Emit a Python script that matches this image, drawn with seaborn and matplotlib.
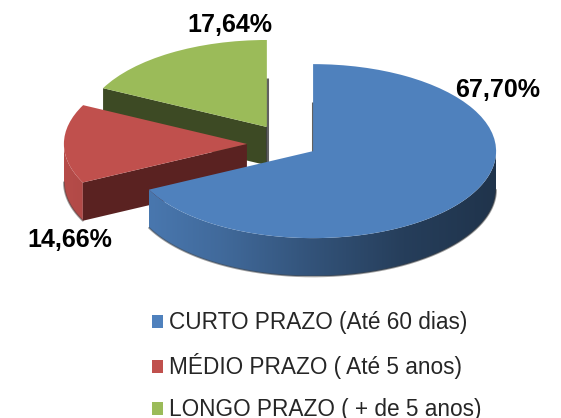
import numpy as np
import matplotlib
matplotlib.use('Agg')
import matplotlib.pyplot as plt
import seaborn as sns
from matplotlib.patches import Polygon, Patch

categories = ['CURTO PRAZO (Até 60 dias)', 'MÉDIO PRAZO ( Até 5 anos)', 'LONGO PRAZO ( + de 5 anos)']
shares = [67.70, 14.66, 17.64]
pct_labels = ['67,70%', '14,66%', '17,64%']

top_colors = ['#4f81bd', '#c0504d', '#9bbb59']
cut_colors = ['#22385a', '#5a2221', '#3d4a24']
explode = [0.155, 0.23, 0.23]
depth = 0.44
label_px = [(498, 90), (69.5, 240), (229.5, 24.5)]  # label centres, pixels

sns.set_theme(style='white')
plt.rcParams['font.family'] = ['Liberation Sans', 'DejaVu Sans']

fig = plt.figure(figsize=(5.61, 4.18), dpi=100)
ax = fig.add_axes([0, 0, 1, 1])

# top faces
wedges, _ = ax.pie(shares, explode=explode, colors=top_colors, startangle=90,
                   counterclock=False, wedgeprops=dict(linewidth=0, zorder=20))

# squash the circle into an ellipse: 183 px per radius across, 87 px down
SX, SY, X0, Y0 = 183, 87, 289, 144
xlim = (-X0 / SX, (561 - X0) / SX)
ylim = ((Y0 - 418) / SY, Y0 / SY)
ax.set_aspect('auto')
ax.axis('off')

shade_x = [-1, -0.5, 0, 0.5, 1]
shade_f = [0.95, 0.82, 0.64, 0.48, 0.40]

# sides, back to front
order = sorted(range(len(wedges)), key=lambda i: -wedges[i].center[1])
z = 1
for i in order:
    w = wedges[i]
    cx, cy = w.center
    t1, t2 = w.theta1, w.theta2
    # curved outer side (front half only)
    a = np.radians(np.linspace(t1, t2, 600))
    a = a[np.sin(a) < 0]
    if len(a) > 1:
        xs = cx + np.cos(a)
        ys = cy + np.sin(a)
        pts = np.vstack([np.column_stack([xs, ys]),
                         np.column_stack([xs[::-1], ys[::-1] - depth])])
        poly = Polygon(pts, closed=True, facecolor='none', edgecolor='none', zorder=z)
        ax.add_patch(poly)
        base = np.array(matplotlib.colors.to_rgb(top_colors[i]))
        gx = np.linspace(-1, 1, 300)
        f = np.interp(gx, shade_x, shade_f)
        img = (f[:, None] * base[None, :])[None, :, :].repeat(2, axis=0)
        im = ax.imshow(img, extent=(cx - 1, cx + 1, cy - 1 - depth, cy + 0.1),
                       aspect='auto', zorder=z, interpolation='bilinear')
        im.set_clip_path(poly)
        ax.plot(xs, ys - depth, color='#444444', lw=1.3, alpha=0.5, zorder=z)
        z += 1
    # flat cut faces facing the viewer, edge-on faces as a thin shadow line
    for t, n in ((t2, t2 + 90), (t1, t1 - 90)):
        s = np.sin(np.radians(n))
        ex, ey = cx + np.cos(np.radians(t)), cy + np.sin(np.radians(t))
        if s < -0.05:
            face = [(cx, cy), (ex, ey), (ex, ey - depth), (cx, cy - depth)]
            ax.add_patch(Polygon(face, closed=True, facecolor=cut_colors[i],
                                 edgecolor='none', zorder=z))
            z += 1
        elif abs(s) <= 0.05:
            ax.plot([cx, ex], [cy - depth, ey - depth], color='#3a3a3a', lw=2.2,
                    alpha=0.8, solid_capstyle='butt', zorder=15)

ax.set_xlim(*xlim)
ax.set_ylim(*ylim)

for txt, (px, py) in zip(pct_labels, label_px):
    ax.text((px - X0) / SX, (Y0 - py) / SY, txt, ha='center', va='center',
            fontsize=18, fontweight='bold', color='black', zorder=30)

handles = [Patch(facecolor=c, edgecolor='none') for c in top_colors]
fig.legend(handles, categories, loc='upper left', bbox_to_anchor=(0.271, 0.2555),
           frameon=False, fontsize=16.3, borderpad=0, borderaxespad=0,
           handlelength=0.49, handleheight=0.49, handletextpad=0.27,
           labelspacing=0.84)

fig.savefig('out.png', dpi=100)
